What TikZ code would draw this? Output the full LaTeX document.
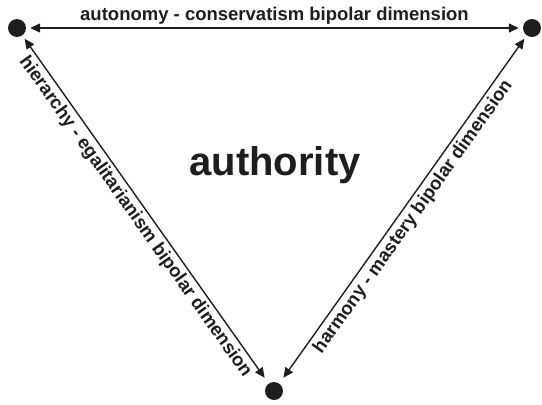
\documentclass[tikz,border=0pt]{standalone}
\usepackage{fontspec}
\setmainfont{Liberation Sans}
\usetikzlibrary{arrows.meta}
\definecolor{ink}{HTML}{1E1E1E}
\tikzset{
  pole/.style={circle, fill=ink, minimum size=18pt, inner sep=0pt},
  dim/.style={draw=ink, line width=1.4pt, {Triangle[length=10pt,width=9pt]}-{Triangle[length=10pt,width=9pt]}},
  lbl/.style={font=\fontsize{18.5}{21}\selectfont\bfseries, text=ink}
}
\begin{document}
\begin{tikzpicture}[x=1pt, y=-1pt]
        \useasboundingbox (0,0) rectangle (542,405);
        \node [pole] (auto) at (17,28) {};
        \node [pole] (cons) at (532,28) {};
        \node [pole] (egal) at (274,391) {};

        \node [font=\fontsize{40}{44}\selectfont\bfseries, text=ink] (authority) at (275,165) {authority};

        \draw [dim, shorten <=4pt, shorten >=4pt] (auto) -- node [lbl, above=0pt] {autonomy - conservatism bipolar dimension} (cons);
        \draw [dim, shorten <=4pt, shorten >=7pt] (auto) -- node [lbl, sloped, below=0pt] {hierarchy - egalitarianism bipolar dimension} (egal);
        \draw [dim, shorten <=7pt, shorten >=4pt] (egal) -- node [lbl, sloped, below=0pt] {harmony - mastery bipolar dimension} (cons);
\end{tikzpicture}
\end{document}
